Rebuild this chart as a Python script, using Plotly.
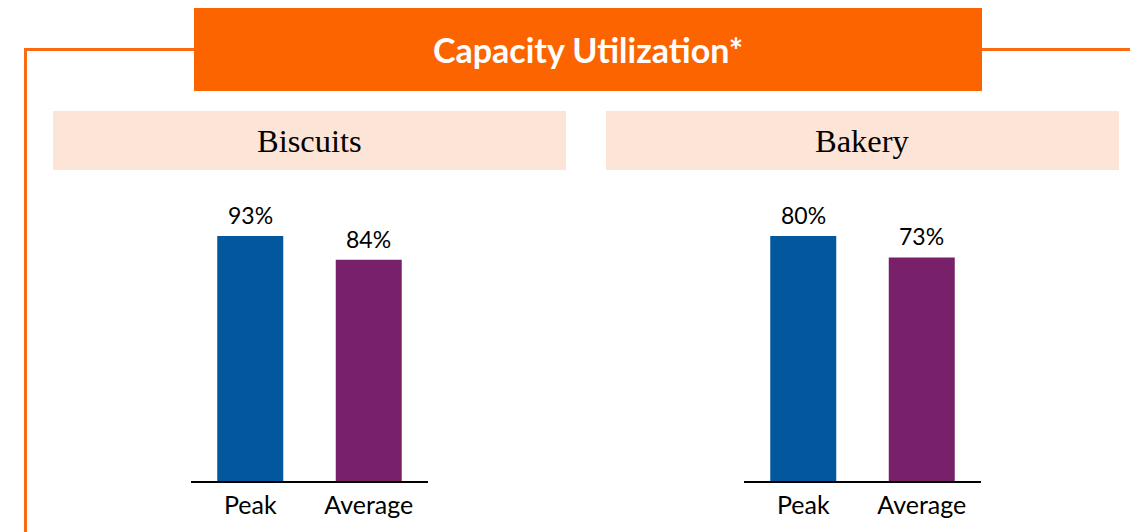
import plotly.graph_objects as go

OFF = 8  # page body margin
W, H = 1138 - OFF, 532 - OFF

categories = ["Peak", "Average"]
biscuits_values = [93, 84]
bakery_values = [80, 73]
panel_titles = ["Biscuits", "Bakery"]
chart_title = "Capacity Utilization*"
bar_colors = ["#02579D", "#79206B"]

ORANGE = "#FC6400"
PEACH = "#FCE4D6"


def px(x):
    return (x - OFF) / W


def py(y):
    return 1 - (y - OFF) / H


fig = go.Figure()

base_y = 481
top_y = 190
max_bar_top = 236
scale = (base_y - top_y) / (base_y - max_bar_top)

panels = [
    (biscuits_values, 191, 428, "x", "y"),
    (bakery_values, 744, 981, "x2", "y2"),
]

annotations = []
for vals, x0, x1, xa, ya in panels:
    fig.add_trace(go.Bar(
        x=categories, y=vals, xaxis=xa, yaxis=ya,
        marker=dict(color=bar_colors, line=dict(width=0)),
        showlegend=False, hoverinfo="skip",
    ))
    for c, v in zip(categories, vals):
        annotations.append(dict(text=f"{v}%", x=c, y=v, xref=xa, yref=ya,
                                showarrow=False, xanchor="center", yanchor="bottom",
                                yshift=5,
                                font=dict(family="Lato", size=23, color="#000000")))

common_x = dict(showline=True, linecolor="#000000", linewidth=1.5, showgrid=False,
                zeroline=False, ticks="", tickfont=dict(family="Lato", size=25, color="#000000"),
                ticklabelstandoff=1, fixedrange=True)
common_y = dict(visible=False, showgrid=False, zeroline=False, fixedrange=True)

fig.update_layout(
    width=W, height=H,
    margin=dict(l=0, r=0, t=0, b=0),
    paper_bgcolor="#FFFFFF", plot_bgcolor="rgba(0,0,0,0)",
    bargap=0.443,
    xaxis=dict(domain=[px(191), px(428)], anchor="y", **common_x),
    yaxis=dict(domain=[py(base_y), py(top_y)], range=[0, max(biscuits_values) * scale], anchor="x", **common_y),
    xaxis2=dict(domain=[px(744), px(981)], anchor="y2", **common_x),
    yaxis2=dict(domain=[py(base_y), py(top_y)], range=[0, max(bakery_values) * scale], anchor="x2", **common_y),
)

shapes = []
# border lines
shapes.append(dict(type="path", xref="paper", yref="paper",
                   path=f"M {px(25.5)} {py(545)} L {px(25.5)} {py(49.5)} L {px(200)} {py(49.5)}",
                   line=dict(color="#FA6A10", width=3)))
shapes.append(dict(type="line", xref="paper", yref="paper",
                   x0=px(975), x1=px(1150), y0=py(49.5), y1=py(49.5),
                   line=dict(color="#FA6A10", width=3)))
# title box
shapes.append(dict(type="rect", xref="paper", yref="paper",
                   x0=px(194), x1=px(982), y0=py(91), y1=py(7),
                   fillcolor=ORANGE, line=dict(width=0)))
# panel headers
for x0, x1 in [(53, 566), (606, 1119)]:
    shapes.append(dict(type="rect", xref="paper", yref="paper",
                       x0=px(x0), x1=px(x1), y0=py(170), y1=py(111),
                       fillcolor=PEACH, line=dict(width=0), layer="below"))
fig.update_layout(shapes=shapes)

annotations.append(dict(text=f"<b>{chart_title}</b>", xref="paper", yref="paper", x=px(588), y=py(50),
                        showarrow=False, xanchor="center", yanchor="middle",
                        font=dict(family="Lato", size=34, color="#FFFFFF")))
for t, cx in zip(panel_titles, [309.5, 862.5]):
    annotations.append(dict(text=t, xref="paper", yref="paper", x=px(cx), y=py(141),
                            showarrow=False, xanchor="center", yanchor="middle",
                            font=dict(family="Liberation Serif", size=32.5, color="#000000")))
fig.update_layout(annotations=annotations)

fig.write_html("out.html")
